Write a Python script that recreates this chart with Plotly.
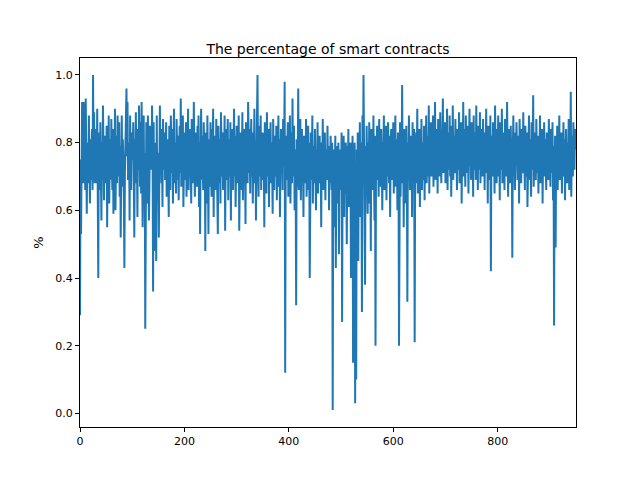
import plotly.graph_objects as go

# share of smart contracts per step
pct = [
    .29, .75, .53, .70, .92, .80, .68, .92, .74, .85, .66, .93, .72, .59, .80, .70, .68, .88, .75, .62, .81, .69, .77, .84, .66,
    1.0, .71, .89, .68, .78, .84, .68, .72, .90, .61, .40, .83, .70, .66, .86, .74, .57, .80, .69, .91, .75, .63, .82, .72, .78,
    .68, .85, .55, .79, .74, .88, .62, .76, .81, .69, .87, .73, .66, .84, .59, .78, .71, .90, .60, .75, .82, .68, .88, .74, .70,
    .86, .64, .79, .52, .73, .88, .67, .81, .75, .63, .43, .71, .78, .85, .96, .76, .92, .69, .74, .80, .57, .88, .72, .66, .83,
    .75, .77, .86, .70, .52, .81, .74, .89, .68, .76, .58, .84, .72, .91, .79, .67, .86, .65, .92, .81, .55, .70, .88, .63, .77,
    .25, .80, .86, .70, .62, .88, .74, .57, .68, .85, .78, .84, .72, .91, .79, .36, .86, .65, .80, .48, .75, .45, .88, .63, .77,
    .70, .52, .80, .91, .74, .84, .68, .79, .61, .87, .75, .72, .83, .69, .78, .86, .64, .77, .81, .70, .58, .85, .73, .66, .88,
    .79, .71, .84, .62, .76, .90, .68, .80, .73, .65, .87, .75, .69, .82, .63, .78, .85, .71, .93, .67, .79, .74, .88, .61, .76,
    .83, .69, .77, .86, .64, .80, .72, .90, .66, .78, .84, .70, .75, .62, .87, .73, .81, .68, .92, .76, .64, .83, .71, .79, .67,
    .85, .74, .88, .61, .80, .53, .76, .90, .69, .82, .72, .66, .86, .75, .79, .48, .83, .70, .62, .88, .74, .53, .81, .67, .77,
    .86, .71, .64, .84, .76, .90, .58, .79, .73, .82, .66, .87, .70, .77, .53, .85, .74, .68, .81, .62, .89, .75, .70, .83, .66,
    .80, .72, .88, .54, .76, .84, .69, .78, .87, .63, .81, .74, .70, .86, .57, .79, .73, .84, .66, .77, .90, .70, .82, .61, .76,
    .85, .68, .79, .73, .88, .54, .77, .83, .66, .80, .72, .89, .63, .78, .84, .70, .75, .56, .86, .73, .80, .68, .92, .76, .71,
    .84, .65, .79, .87, .70, .78, .62, .83, .74, .90, .68, .80, .57, .76, .86, 1.0, .72, .64, .85, .78, .70, .88, .66, .80, .74,
    .83, .69, .77, .55, .86, .72, .80, .65, .89, .75, .70, .84, .61, .78, .73, .86, .68, .80, .74, .59, .87, .72, .66, .82, .77,
    .70, .85, .63, .79, .74, .88, .67, .81, .58, .76, .84, .71, .78, .66, .87, .73, .80, .98, .12, .76, .82, .69, .75, .86, .64,
    .79, .72, .88, .62, .77, .83, .68, .93, .74, .70, .85, .60, .78, .73, .32, .81, .67, .76, .96, .66, .80, .72, .87, .63, .77,
    .84, .70, .75, .58, .82, .68, .79, .74, .87, .64, .78, .71, .85, .66, .80, .40, .76, .83, .69, .73, .88, .62, .79, .72, .68,
    .84, .74, .60, .78, .70, .86, .65, .79, .73, .82, .68, .77, .55, .80, .72, .87, .66, .76, .71, .83, .63, .78, .74, .69, .85,
    .72, .79, .60, .77, .68, .82, .73, .66, .80, .01, .75, .78, .55, .70, .82, .43, .76, .68, .79, .62, .80, .47, .74, .71, .78,
    .66, .83, .27, .76, .70, .82, .58, .78, .65, .80, .73, .50, .79, .68, .84, .61, .75, .71, .80, .40, .77, .66, .82, .15, .74,
    .60, .80, .03, .72, .10, .78, .65, .83, .45, .76, .70, .86, .58, .80, .74, .30, .88, .68, 1.0, .72, .82, .38, .79, .66, .85,
    .73, .59, .80, .70, .86, .62, .77, .48, .84, .71, .79, .66, .88, .74, .57, .82, .20, .76, .69, .85, .72, .79, .64, .87, .71,
    .78, .67, .84, .73, .60, .80, .75, .88, .66, .79, .72, .85, .63, .78, .70, .86, .74, .68, .82, .58, .77, .84, .69, .80, .73,
    .86, .65, .79, .72, .88, .67, .81, .74, .60, .83, .77, .20, .70, .86, .64, .80, .73, .97, .68, .78, .55, .84, .71, .77, .62,
    .85, .74, .33, .80, .69, .88, .75, .66, .82, .72, .79, .58, .86, .70, .77, .84, .21, .76, .68, .83, .73, .90, .65, .79, .75,
    .84, .61, .78, .72, .87, .66, .80, .74, .69, .85, .63, .79, .73, .88, .68, .76, .82, .70, .91, .65, .78, .74, .86, .70, .80,
    .73, .88, .67, .81, .76, .92, .69, .84, .72, .79, .65, .87, .74, .80, .70, .89, .76, .68, .83, .77, .93, .71, .82, .75, .86,
    .68, .80, .74, .90, .66, .83, .77, .72, .88, .70, .85, .64, .79, .74, .91, .69, .82, .76, .71, .87, .73, .80, .66, .84, .78,
    .72, .89, .68, .81, .75, .86, .62, .79, .73, .92, .70, .84, .77, .67, .88, .74, .80, .71, .85, .65, .78, .90, .73, .82, .69,
    .86, .75, .80, .64, .88, .72, .78, .83, .69, .91, .74, .81, .66, .85, .77, .72, .89, .68, .80, .75, .84, .70, .87, .73, .79,
    .66, .83, .76, .90, .71, .80, .62, .85, .74, .78, .69, .88, .42, .82, .75, .70, .86, .73, .79, .65, .91, .76, .81, .68, .84,
    .74, .88, .70, .80, .63, .86, .77, .72, .90, .68, .83, .75, .79, .66, .87, .73, .81, .70, .92, .76, .64, .84, .72, .79, .68,
    .85, .74, .80, .46, .78, .88, .70, .83, .66, .79, .75, .86, .72, .69, .82, .77, .62, .87, .74, .80, .68, .84, .76, .71, .89,
    .73, .80, .66, .85, .77, .70, .83, .61, .78, .74, .88, .69, .81, .75, .64, .86, .72, .79, .94, .67, .83, .74, .78, .69, .87,
    .76, .71, .82, .65, .79, .73, .88, .68, .80, .75, .84, .62, .78, .72, .86, .70, .81, .76, .66, .83, .74, .79, .69, .87, .73,
    .80, .67, .84, .75, .71, .86, .63, .79, .26, .74, .82, .49, .77, .70, .85, .66, .80, .74, .88, .69, .78, .72, .83, .65, .79,
    .74, .86, .70, .81, .63, .77, .84, .72, .68, .80, .75, .87, .66, .79, .73, .95, .64, .82, .76, .70, .86, .77, .72, .84, .78,
]
steps = list(range(len(pct)))

fig = go.Figure()
fig.add_trace(go.Scatter(x=steps, y=pct, mode='lines', line=dict(color='#1f77b4', width=2)))

axis = dict(showline=True, linecolor='black', linewidth=1, mirror=True, ticks='outside',
            ticklen=4, tickcolor='black', showgrid=False, zeroline=False, automargin=False)
fig.update_layout(
    width=640, height=480, plot_bgcolor='white', paper_bgcolor='white',
    font=dict(family='DejaVu Sans', size=11, color='black'),
    title=dict(text='The percentage of smart contracts', x=0.5, xanchor='center', y=0.925, font=dict(size=14)),
    margin=dict(l=72, r=72, t=50, b=61), showlegend=False,
    xaxis=dict(axis, range=[0, 950], tickvals=[0, 200, 400, 600, 800]),
    yaxis=dict(axis, range=[-0.04, 1.05], tickvals=[0, .2, .4, .6, .8, 1.0], tickformat='.1f',
               title=dict(text='%', standoff=8)),
)
fig.write_html("out.html")
